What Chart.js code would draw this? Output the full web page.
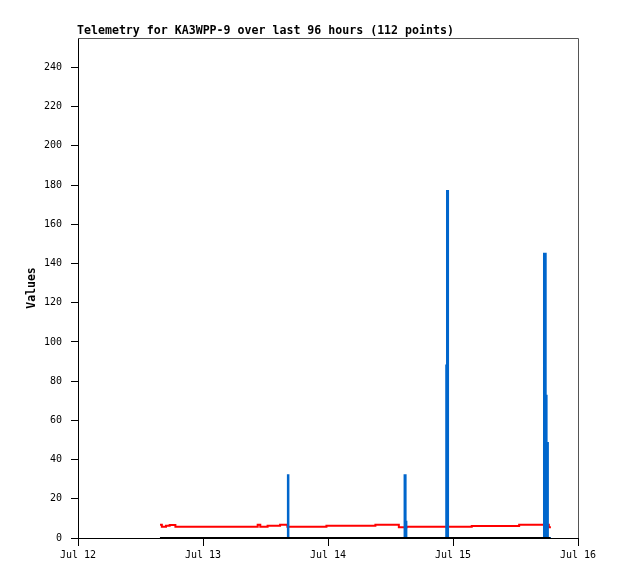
<!DOCTYPE html>
<html>
<head>
<meta charset="utf-8">
<script src="https://cdn.jsdelivr.net/npm/chart.js@4/dist/chart.umd.min.js"></script>
<style>
  body { margin: 0; background: #fff; }
  canvas { display: block; }
</style>
</head>
<body>
<canvas id="telemetryChart" width="618" height="579"></canvas>
<script>
// Hours since Jul 12 00:00
const dayLabels = ['Jul 12', 'Jul 13', 'Jul 14', 'Jul 15', 'Jul 16'];
const xTicks = [0, 24, 48, 72, 96];
const yTicks = [0, 20, 40, 60, 80, 100, 120, 140, 160, 180, 200, 220, 240];

// Red series (value holds until the next point)
const redHours  = [15.74, 16.1, 16.9, 17.6, 18.7, 34.5, 35.0, 36.4, 38.8, 40.2, 47.7, 57.1, 61.6, 63.1, 75.6, 84.7, 90.4, 90.8];
const redValues = [6.8,   5.8,  6.3,  6.6,  5.8,  6.8,  5.8,  6.3,  6.8,  5.8,  6.3,  6.8,  5.5,  5.7,  6.1,  6.8,  5.5,  5.5];

// Blue series (spikes)
const blueHours  = [15.74, 40.3, 40.4, 62.7, 62.9, 63.05, 70.7, 70.85, 71.05, 89.47, 89.8, 89.97, 90.22, 90.8];
const blueValues = [0,     32,   0,    32,   8.3,  0,     88,   177,   0,     145,   72.5, 48.5,  0,     0];

// Black series (flat at zero)
const zeroHours  = [15.74, 90.7];
const zeroValues = [0, 0];

function toPoints(xs, ys) {
    return xs.map((x, i) => ({ x: x, y: ys[i] }));
}

const monoFont = 'DejaVu Sans Mono';

// Title and top/right frame drawn by a small plugin
const framePlugin = {
    id: 'frame',
    afterDraw(chart) {
        const ctx = chart.ctx;
        const a = chart.chartArea;
        ctx.save();
        ctx.strokeStyle = '#555';
        ctx.lineWidth = 1;
        ctx.beginPath();
        ctx.moveTo(a.left, a.top + 0.5);
        ctx.lineTo(a.right + 0.5, a.top + 0.5);
        ctx.lineTo(a.right + 0.5, a.bottom);
        ctx.stroke();
        ctx.fillStyle = '#000';
        ctx.font = 'bold 11.6px "' + monoFont + '"';
        ctx.textBaseline = 'middle';
        ctx.textAlign = 'left';
        ctx.fillText('Telemetry for KA3WPP-9 over last 96 hours (112 points)', a.left - 1, 31);
        ctx.restore();
    }
};

new Chart(document.getElementById('telemetryChart'), {
    type: 'line',
    data: {
        datasets: [{
            label: 'zero',
            data: toPoints(zeroHours, zeroValues),
            borderColor: '#000',
            borderWidth: 2,
            pointRadius: 0,
            stepped: 'before',
            order: 0
        }, {
            label: 'blue',
            data: toPoints(blueHours, blueValues),
            borderColor: '#0066cc',
            backgroundColor: '#0066cc',
            fill: 'origin',
            borderWidth: 2,
            pointRadius: 0,
            stepped: 'before',
            order: 1
        }, {
            label: 'red',
            data: toPoints(redHours, redValues),
            borderColor: '#ff0000',
            borderWidth: 2,
            pointRadius: 0,
            stepped: 'before',
            order: 2
        }]
    },
    options: {
        responsive: false,
        animation: false,
        layout: {
            padding: { left: 0, right: 40, top: 38, bottom: 0 }
        },
        plugins: {
            legend: { display: false },
            tooltip: { enabled: false },
            filler: { drawTime: 'beforeDatasetDraw' }
        },
        scales: {
            x: {
                type: 'linear',
                min: 0,
                max: 96,
                afterBuildTicks: scale => { scale.ticks = xTicks.map(v => ({ value: v })); },
                afterFit: scale => { scale.height = 41; },
                grid: {
                    drawOnChartArea: false,
                    drawTicks: true,
                    tickLength: 8,
                    color: '#000'
                },
                border: { display: true, color: '#000' },
                ticks: {
                    autoSkip: false,
                    maxRotation: 0,
                    padding: 3,
                    color: '#000',
                    font: { family: monoFont, size: 10 },
                    callback: v => dayLabels[xTicks.indexOf(v)]
                }
            },
            y: {
                min: 0,
                max: 255,
                afterBuildTicks: scale => { scale.ticks = yTicks.map(v => ({ value: v })); },
                afterFit: scale => { scale.width = 78; },
                grid: {
                    drawOnChartArea: false,
                    drawTicks: true,
                    tickLength: 7,
                    color: '#000'
                },
                border: { display: true, color: '#000' },
                ticks: {
                    padding: 9,
                    color: '#000',
                    font: { family: monoFont, size: 10 }
                },
                title: {
                    display: true,
                    text: 'Values',
                    color: '#000',
                    font: { family: monoFont, size: 11.5, weight: 'bold' },
                    padding: { top: 25, bottom: 0 }
                }
            }
        }
    },
    plugins: [framePlugin]
});
</script>
</body>
</html>
